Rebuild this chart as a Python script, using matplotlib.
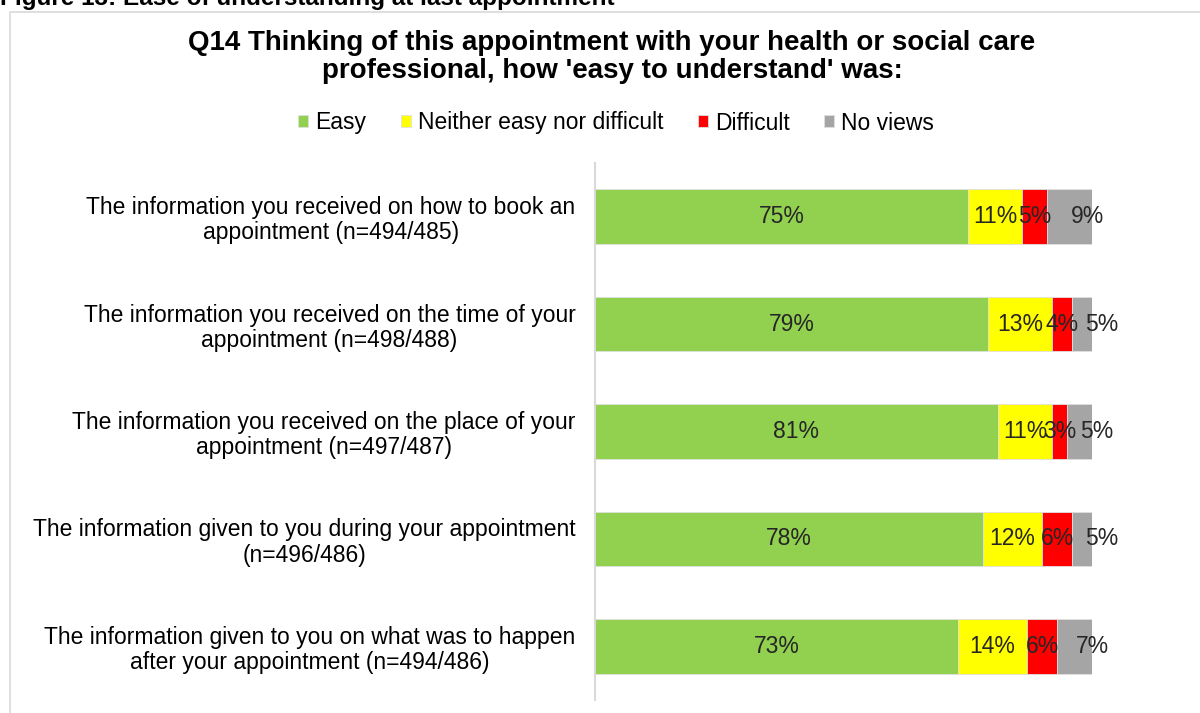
import matplotlib
matplotlib.use("Agg")
import matplotlib.pyplot as plt
from matplotlib.patches import Rectangle
import numpy as np

plt.rcParams['font.family'] = ['Liberation Sans', 'DejaVu Sans']

# Survey results, percentages per statement
statements = [
    "The information you received on how to book an\nappointment (n=494/485)",
    "The information you received on the time of your\nappointment (n=498/488)",
    "The information you received on the place of your\nappointment (n=497/487)",
    "The information given to you during your appointment\n(n=496/486)",
    "The information given to you on what was to happen\nafter your appointment (n=494/486)",
]
series_names = ["Easy", "Neither easy nor difficult", "Difficult", "No views"]
easy = [75, 79, 81, 78, 73]
neither = [11, 13, 11, 12, 14]
difficult = [5, 4, 3, 6, 6]
no_views = [9, 5, 5, 5, 7]
colours = ["#92D050", "#FFFF00", "#FF0000", "#A5A5A5"]
# small nudge to the right for the last labels so they clear the red ones
label_shift = [0, 0, 0, 3.5]

title = ("Q14 Thinking of this appointment with your health or social care\n"
         "professional, how 'easy to understand' was:")
heading = "Figure 13: Ease of understanding at last appointment"

fs = 16.5

fig = plt.figure(figsize=(12, 7.13), dpi=100)

# light frame around the chart area
fig.patches.append(Rectangle((10/1200, -0.1), 1.2, 0.1 + 1 - 12/713,
                             transform=fig.transFigure, fill=False,
                             edgecolor="#d9d9d9", linewidth=1.2))
fig.text(0.0, 1 - 5/713, heading, fontsize=17.5, fontweight="bold",
         ha="left", va="baseline")

ax = fig.add_axes([595/1200, 13/713, 497/1200, 537/713])

y = np.arange(len(statements))
left = np.zeros(len(statements))
for name, vals, col, dx in zip(series_names, [easy, neither, difficult, no_views],
                               colours, label_shift):
    vals = np.array(vals, dtype=float)
    bars = ax.barh(y, vals, left=left, height=0.51, color=col, label=name,
                   edgecolor="#e0e0e0", linewidth=0.6)
    for b, v in zip(bars, vals):
        ax.text(b.get_x() + b.get_width() / 2 + dx, b.get_y() + b.get_height() / 2,
                f"{v:.0f}%", ha="center", va="center", fontsize=fs,
                color="#262626", clip_on=False)
    left += vals

ax.set_ylim(len(statements) - 0.5, -0.5)
ax.set_xlim(0, 100)
ax.set_yticks(y)
ax.set_yticklabels(statements, fontsize=fs, multialignment="center",
                   linespacing=1.12)
ax.tick_params(axis="y", length=0, pad=14)
ax.set_xticks([])
for s in ["top", "right", "bottom"]:
    ax.spines[s].set_visible(False)
ax.spines["left"].set_color("#d9d9d9")
ax.spines["left"].set_linewidth(1.5)

fig.text(612/1200, 1 - 57/713, title, fontsize=20, fontweight="bold",
         ha="center", va="center", multialignment="center", linespacing=1.12)

handles, labels = ax.get_legend_handles_labels()
fig.legend(handles, labels, loc="center", bbox_to_anchor=(616/1200, 1 - 123/713),
           ncol=4, frameon=False, fontsize=fs, handlelength=0.45,
           handleheight=0.45, handletextpad=0.3, columnspacing=1.5)

fig.savefig("out.png", dpi=100)
